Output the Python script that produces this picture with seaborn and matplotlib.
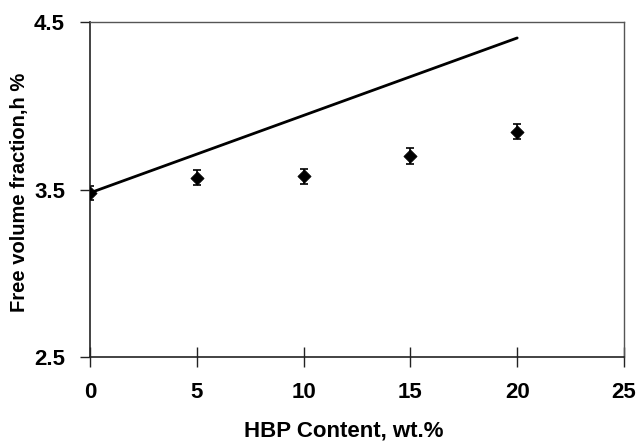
import matplotlib
matplotlib.use("Agg")
import matplotlib.pyplot as plt
import seaborn as sns
import pandas as pd

sns.set_style("white", {"xtick.bottom": True, "ytick.left": True,
                        "text.color": "black", "axes.labelcolor": "black",
                        "xtick.color": "black", "ytick.color": "black"})
plt.rcParams["font.family"] = ["Liberation Sans", "DejaVu Sans"]

# measured free volume fraction with error bars
hbp = [0, 5, 10, 15, 20]
h_frac = [3.48, 3.57, 3.58, 3.70, 3.845]
h_err = [0.04, 0.045, 0.045, 0.045, 0.045]

# additivity line
line_x = [0, 20]
line_y = [3.48, 4.405]

points = pd.DataFrame({"hbp": hbp, "h": h_frac})
additive = pd.DataFrame({"hbp": line_x, "h": line_y})

fig = plt.figure(figsize=(6.4, 4.41), dpi=100)
ax = fig.add_axes([0.1406, 0.1905, 0.8344, 0.7595])

sns.lineplot(data=additive, x="hbp", y="h", color="black", linewidth=2, ax=ax)
ax.errorbar(hbp, h_frac, yerr=h_err, fmt="none", ecolor="black",
            elinewidth=1.2, capsize=3, capthick=1.2)
sns.scatterplot(data=points, x="hbp", y="h", marker="D", s=45,
                color="black", edgecolor="black", ax=ax, zorder=3)

ax.set_xlim(0, 25)
ax.set_ylim(2.5, 4.5)
ax.set_xticks([0, 5, 10, 15, 20, 25])
ax.set_yticks([2.5, 3.5, 4.5])
ax.set_xticklabels(["0", "5", "10", "15", "20", "25"], fontsize=16, fontweight="bold")
ax.set_yticklabels(["2.5", "3.5", "4.5"], fontsize=16, fontweight="bold")
ax.tick_params(axis="x", direction="inout", length=14, width=1, pad=11, color="#222222")
ax.tick_params(axis="y", direction="out", length=7, width=1, pad=11, color="#222222")

ax.set_xlabel("HBP Content, wt.%", fontsize=16, fontweight="bold")
ax.set_ylabel("Free volume fraction,h %", fontsize=14.5, fontweight="bold")
ax.xaxis.set_label_coords(0.475, -0.19)
ax.yaxis.set_label_coords(-0.114, 0.49)

for side in ["left", "bottom"]:
    ax.spines[side].set_color("#222222")
    ax.spines[side].set_linewidth(1.2)
for side in ["top", "right"]:
    ax.spines[side].set_color("#555555")
    ax.spines[side].set_linewidth(1.0)

fig.savefig("out.png", dpi=100)
